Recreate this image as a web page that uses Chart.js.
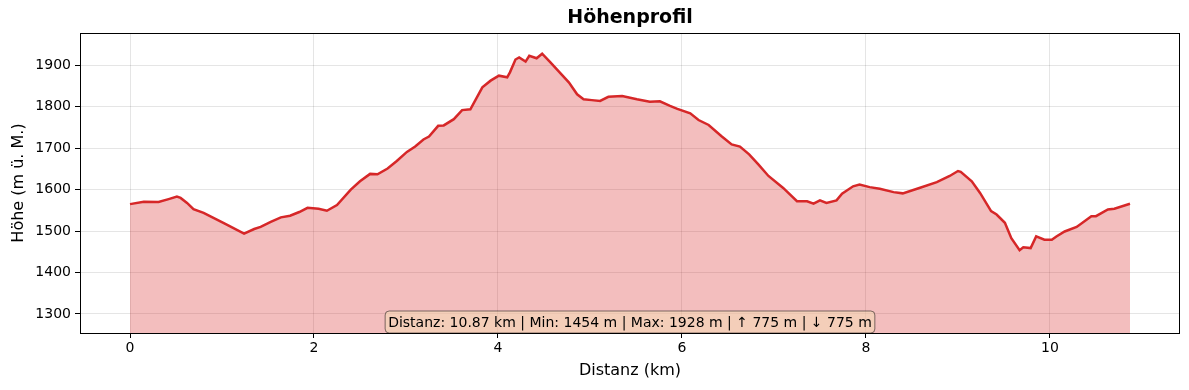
<!DOCTYPE html>
<html>
<head>
<meta charset="utf-8">
<script src="https://cdn.jsdelivr.net/npm/chart.js@4/dist/chart.umd.min.js"></script>
<style>
  html, body { margin: 0; padding: 0; background: #fff; }
  #wrap { width: 1189px; height: 390px; }
</style>
</head>
<body>
<div id="wrap"><canvas id="profile" width="1189" height="390"></canvas></div>
<script>
const distanceKm = [
    0.00, 0.15, 0.31, 0.42, 0.51, 0.55, 0.62, 0.69, 0.80, 1.02,
    1.24, 1.35, 1.42, 1.53, 1.64, 1.74, 1.84, 1.93, 2.05, 2.14,
    2.25, 2.40, 2.50, 2.61, 2.69, 2.80, 2.90, 3.01, 3.10, 3.19,
    3.25, 3.35, 3.41, 3.52, 3.61, 3.70, 3.83, 3.92, 4.01, 4.10,
    4.13, 4.19, 4.23, 4.30, 4.34, 4.42, 4.48, 4.57, 4.67, 4.77,
    4.86, 4.93, 5.02, 5.11, 5.20, 5.35, 5.51, 5.65, 5.76, 5.87,
    5.95, 6.09, 6.18, 6.29, 6.43, 6.54, 6.63, 6.73, 6.83, 6.94,
    7.10, 7.25, 7.36, 7.43, 7.50, 7.57, 7.68, 7.74, 7.86, 7.93,
    8.04, 8.15, 8.30, 8.40, 8.58, 8.77, 8.91, 9.00, 9.03, 9.15,
    9.24, 9.36, 9.42, 9.51, 9.58, 9.67, 9.71, 9.79, 9.85, 9.94,
    10.02, 10.07, 10.16, 10.29, 10.45, 10.50, 10.63, 10.70, 10.87
];

const elevationM = [
    1565, 1571, 1570, 1577, 1583, 1580, 1568, 1553, 1544, 1519,
    1494, 1505, 1510, 1522, 1533, 1537, 1546, 1556, 1554, 1549,
    1563, 1600, 1620, 1638, 1637, 1651, 1669, 1691, 1704, 1721,
    1728, 1754, 1755, 1770, 1792, 1794, 1847, 1863, 1875, 1871,
    1883, 1914, 1919, 1909, 1923, 1917, 1928, 1907, 1883, 1859,
    1830, 1818, 1816, 1814, 1824, 1826, 1818, 1812, 1813, 1802,
    1795, 1784, 1768, 1756, 1729, 1709, 1704, 1685, 1661, 1633,
    1604, 1572, 1572, 1566, 1574, 1568, 1574, 1590, 1608, 1612,
    1606, 1602, 1594, 1591, 1604, 1618, 1633, 1645, 1643, 1620,
    1592, 1548, 1540, 1520, 1483, 1454, 1461, 1459, 1487, 1479,
    1479, 1487, 1499, 1510, 1536, 1536, 1552, 1554, 1566
];

const xTicks = [0, 2, 4, 6, 8, 10];
const yTicks = [1300, 1400, 1500, 1600, 1700, 1800, 1900];

const titleText = 'Höhenprofil';
const statsText = 'Distanz: 10.87 km | Min: 1454 m | Max: 1928 m | \u2191 775 m | \u2193 775 m';

const FONT = 'DejaVu Sans';

// title over the plot area, frame on all four sides, stats box at the bottom
const framePlugin = {
    id: 'frameAndStats',
    afterDraw(chart) {
        const ctx = chart.ctx;
        const a = chart.chartArea;
        const cx = (a.left + a.right) / 2;
        ctx.save();
        ctx.strokeStyle = '#000';
        ctx.lineWidth = 1;
        ctx.strokeRect(a.left + 0.5, a.top + 0.5, a.right - a.left - 1, a.bottom - a.top);

        ctx.fillStyle = '#000';
        ctx.textAlign = 'center';
        ctx.textBaseline = 'middle';
        ctx.font = 'bold 19px "' + FONT + '"';
        ctx.fillText(titleText, cx, 18);

        ctx.font = '14px "' + FONT + '"';
        const w = ctx.measureText(statsText).width;
        const cy = a.bottom - 11;
        const bw = w + 6, bh = 22;
        const bx = cx - bw / 2, by = cy - bh / 2;
        ctx.beginPath();
        ctx.roundRect(bx, by, bw, bh, 4);
        ctx.fillStyle = 'rgba(245, 222, 179, 0.5)';
        ctx.fill();
        ctx.strokeStyle = 'rgba(0, 0, 0, 0.5)';
        ctx.stroke();
        ctx.fillStyle = '#000';
        ctx.fillText(statsText, cx, cy + 1);
        ctx.restore();
    }
};

const points = distanceKm.map((d, i) => ({ x: d, y: elevationM[i] }));

const config = {
    type: 'line',
    data: {
        datasets: [
            {
                label: 'Höhe',
                data: points,
                borderColor: '#d62728',
                backgroundColor: 'rgba(214, 39, 40, 0.3)',
                borderWidth: 2.5,
                pointRadius: 0,
                tension: 0,
                fill: 'start',
            }
        ]
    },
    options: {
        responsive: false,
        animation: false,
        layout: {
            padding: { left: 0, right: 9, top: 33, bottom: 0 }
        },
        scales: {
            x: {
                type: 'linear',
                min: -0.5435,
                max: 11.4135,
                afterBuildTicks: (axis) => {
                    axis.ticks = xTicks.map(v => ({ value: v }));
                },
                afterFit: (axis) => { axis.height = 57; },
                grid: {
                    color: 'rgba(0, 0, 0, 0.1)',
                    tickColor: '#000',
                    tickLength: 5,
                },
                border: { display: false },
                ticks: {
                    color: '#000',
                    font: { family: FONT, size: 14 },
                    padding: 2,
                    maxRotation: 0,
                    callback: (v) => String(v),
                },
                title: {
                    display: true,
                    text: 'Distanz (km)',
                    color: '#000',
                    font: { family: FONT, size: 16 },
                    padding: { top: 4, bottom: 10 },
                }
            },
            y: {
                min: 1254,
                max: 1978,
                afterBuildTicks: (axis) => {
                    axis.ticks = yTicks.map(v => ({ value: v }));
                },
                afterFit: (axis) => { axis.width = 80; },
                grid: {
                    color: 'rgba(0, 0, 0, 0.1)',
                    tickColor: '#000',
                    tickLength: 5,
                },
                border: { display: false },
                ticks: {
                    color: '#000',
                    font: { family: FONT, size: 14 },
                    padding: 4,
                    callback: (v) => String(v),
                },
                title: {
                    display: true,
                    text: 'Höhe (m ü. M.)',
                    color: '#000',
                    font: { family: FONT, size: 16 },
                    padding: { top: 9, bottom: 4 },
                }
            }
        },
        plugins: {
            legend: { display: false },
            tooltip: { enabled: false },
            title: { display: false }
        }
    },
    plugins: [framePlugin]
};

const chart = new Chart(document.getElementById('profile'), config);
</script>
</body>
</html>
